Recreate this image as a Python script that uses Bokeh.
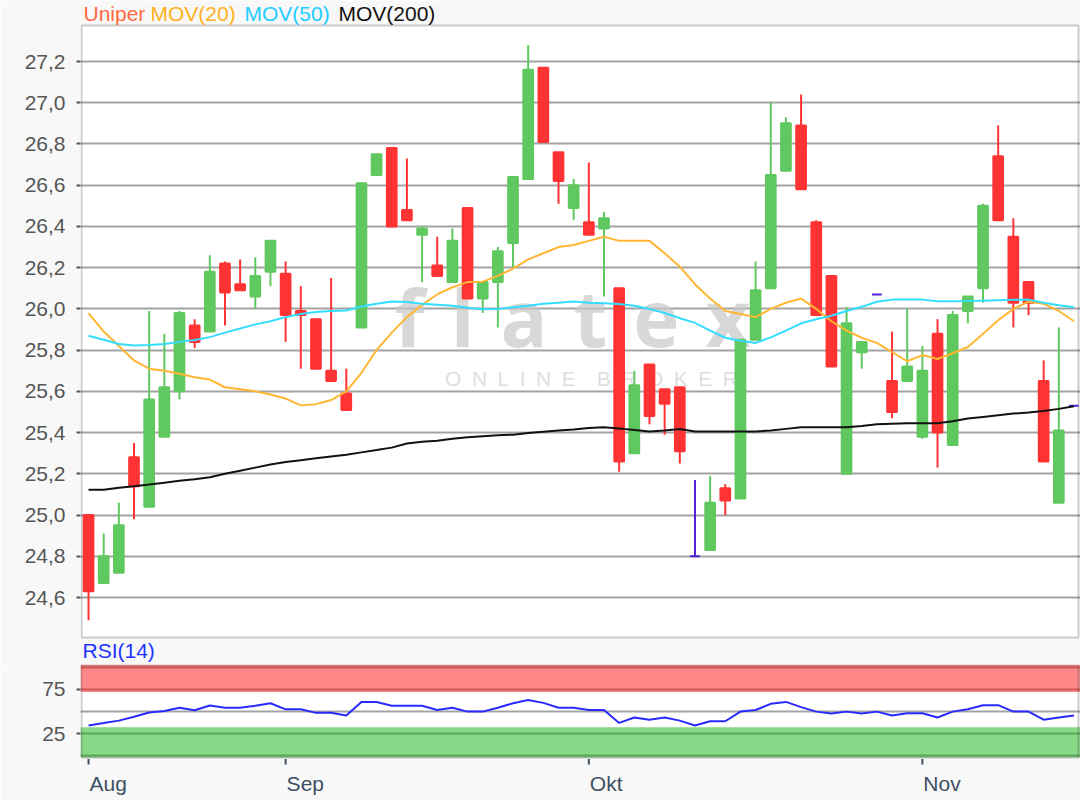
import numpy as np
from bokeh.plotting import figure
from bokeh.models import Range1d, FixedTicker, Label, ColumnDataSource, BoxAnnotation
from bokeh.layouts import column
from bokeh.embed import file_html
from bokeh.resources import INLINE

# ---------------- data ----------------
month_labels = ["Aug", "Sep", "Okt", "Nov"]
month_index = [0, 13, 33, 55]

open_ = [25.00, 24.67, 24.72, 25.28, 25.04, 25.38, 25.60, 25.92, 25.89, 26.22,
         26.12, 26.06, 26.18, 26.17, 25.99, 25.95, 25.70, 25.59, 25.91, 26.65,
         26.78, 26.48, 26.36, 26.21, 26.13, 26.49, 26.05, 26.13, 26.32, 26.63,
         27.17, 26.76, 26.49, 26.42, 26.39, 26.10, 25.30, 25.73, 25.61, 25.62,
         24.80, 24.83, 25.13, 25.08, 25.85, 26.10, 26.67, 26.89, 26.42, 26.16,
         25.20, 25.79, 26.07, 25.65, 25.65, 25.38, 25.88, 25.34, 25.99, 26.10,
         26.74, 26.35, 26.13, 25.65, 25.06, 25.53]
high = [25.00, 24.91, 25.06, 25.35, 25.99, 25.88, 25.99, 25.95, 26.26, 26.23,
        26.24, 26.25, 26.33, 26.23, 26.11, 25.95, 26.15, 25.71, 26.61, 26.75,
        26.78, 26.73, 26.40, 26.35, 26.39, 26.49, 26.13, 26.30, 26.64, 27.28,
        27.17, 26.76, 26.63, 26.71, 26.47, 26.10, 25.70, 25.73, 25.61, 25.62,
        25.17, 25.19, 25.15, 25.85, 26.23, 27.00, 26.93, 27.04, 26.43, 26.16,
        26.01, 25.84, 26.07, 25.89, 26.00, 25.82, 25.95, 25.99, 26.06, 26.51,
        26.89, 26.44, 26.13, 25.75, 25.91, 25.53]
low = [24.49, 24.67, 24.72, 24.98, 25.04, 25.38, 25.56, 25.81, 25.89, 25.92,
       26.09, 26.00, 26.11, 25.84, 25.71, 25.71, 25.65, 25.51, 25.91, 26.65,
       26.40, 26.43, 26.13, 26.16, 26.13, 26.05, 25.98, 25.91, 26.20, 26.63,
       26.81, 26.51, 26.43, 26.36, 26.06, 25.21, 25.30, 25.44, 25.39, 25.25,
       24.80, 24.83, 25.00, 25.08, 25.85, 26.10, 26.67, 26.58, 25.97, 25.72,
       25.20, 25.71, 26.07, 25.47, 25.65, 25.37, 25.23, 25.34, 25.93, 26.03,
       26.43, 25.91, 25.97, 25.26, 25.06, 25.53]
close = [24.63, 24.80, 24.95, 25.14, 25.56, 25.62, 25.98, 25.84, 26.18, 26.08,
         26.09, 26.16, 26.33, 25.97, 25.97, 25.71, 25.65, 25.51, 26.61, 26.75,
         26.40, 26.43, 26.39, 26.16, 26.33, 26.05, 26.13, 26.28, 26.64, 27.16,
         26.81, 26.62, 26.60, 26.36, 26.44, 25.26, 25.63, 25.48, 25.54, 25.31,
         24.80, 25.06, 25.07, 25.85, 26.09, 26.65, 26.90, 26.58, 25.97, 25.72,
         25.93, 25.84, 26.07, 25.50, 25.72, 25.70, 25.40, 25.97, 26.06, 26.50,
         26.43, 26.03, 26.03, 25.26, 25.41, 25.53]

mov20 = [25.98, 25.89, 25.82, 25.75, 25.71, 25.70, 25.685, 25.668, 25.657, 25.62,
         25.61, 25.60, 25.585, 25.565, 25.532, 25.538, 25.558, 25.60, 25.69, 25.80,
         25.885, 25.96, 26.02, 26.07, 26.105, 26.13, 26.132, 26.16, 26.195, 26.24,
         26.27, 26.30, 26.31, 26.33, 26.35, 26.33, 26.33, 26.33, 26.27, 26.205,
         26.12, 26.05, 25.99, 25.975, 25.96, 26.00, 26.03, 26.05, 26.00, 25.94,
         25.895, 25.86, 25.835, 25.79, 25.746, 25.776, 25.757, 25.785, 25.815, 25.88,
         25.945, 26.00, 26.035, 26.025, 25.99, 25.94]
mov50 = [25.87, 25.85, 25.83, 25.822, 25.825, 25.83, 25.84, 25.849, 25.863, 25.885,
         25.905, 25.925, 25.94, 25.96, 25.975, 25.985, 25.99, 25.992, 26.012, 26.025,
         26.036, 26.033, 26.025, 26.02, 26.015, 26.005, 25.998, 26.00, 26.008, 26.015,
         26.025, 26.03, 26.036, 26.03, 26.027, 26.024, 26.015, 26.00, 25.98, 25.955,
         25.932, 25.895, 25.86, 25.845, 25.835, 25.862, 25.895, 25.93, 25.95, 25.967,
         25.99, 26.01, 26.035, 26.045, 26.045, 26.045, 26.037, 26.037, 26.038, 26.04,
         26.042, 26.044, 26.045, 26.03, 26.018, 26.008]
mov200 = [25.123, 25.123, 25.132, 25.14, 25.148, 25.157, 25.166, 25.174, 25.183, 25.20,
          25.215, 25.23, 25.245, 25.257, 25.266, 25.275, 25.284, 25.292, 25.304, 25.315,
          25.327, 25.347, 25.355, 25.36, 25.37, 25.377, 25.382, 25.387, 25.39, 25.398,
          25.404, 25.41, 25.415, 25.422, 25.426, 25.42, 25.413, 25.405, 25.41, 25.417,
          25.405, 25.405, 25.405, 25.405, 25.405, 25.41, 25.418, 25.426, 25.426, 25.426,
          25.426, 25.432, 25.44, 25.443, 25.445, 25.445, 25.445, 25.455, 25.468, 25.476,
          25.484, 25.492, 25.497, 25.505, 25.515, 25.528]
rsi14 = [34.1, 36.8, 39.6, 44.0, 48.7, 50.5, 54.2, 51.3, 56.8, 54.2,
         54.2, 56.5, 59.3, 52.4, 52.4, 48.4, 48.4, 45.4, 60.8, 60.8,
         56.4, 56.4, 56.4, 51.6, 54.2, 49.8, 49.8, 54.2, 59.3, 63.0,
         59.7, 54.2, 54.2, 51.6, 51.6, 37.0, 43.2, 40.7, 43.2, 39.6,
         34.1, 38.9, 38.9, 49.8, 51.6, 58.6, 60.8, 54.9, 49.8, 47.6,
         49.8, 47.6, 49.8, 45.4, 48.0, 48.0, 43.2, 49.8, 52.4, 57.1,
         57.1, 49.8, 49.8, 40.7, 43.2, 45.4]

y_ticks = [24.6, 24.8, 25.0, 25.2, 25.4, 25.6, 25.8, 26.0, 26.2, 26.4, 26.6, 26.8, 27.0, 27.2]
y_tick_labels = ["24,6", "24,8", "25,0", "25,2", "25,4", "25,6", "25,8", "26,0",
                 "26,2", "26,4", "26,6", "26,8", "27,0", "27,2"]
rsi_ticks = [25, 75]
rsi_tick_labels = ["25", "75"]
rsi_grid = [0, 25, 50, 75, 100]
rsi_upper_band = [72, 103.2]
rsi_lower_band = [-2.2, 32]

# ---------------- layout / styling ----------------
FONT = "Liberation Sans"
GREEN = "#5fc85f"
RED = "#ff3333"
FLAT = "#5020d8"
GRID = "#a3a3a3"
FRAME = "#555555"
BG = "#f8f8f8"
MONTH_COL = "#3d4f63"
SP = "\u2004"
EN = "\u2002"

X0, X1 = -0.53, 65.43              # visible index range
P_LO, P_HI = 24.406, 27.375        # price plot area
P_VIEW = (24.275, 27.496)          # price frame incl. title strip / gap
R_LO, R_HI = -2.2, 103.2           # RSI plot area
R_VIEW = (-50.93, 103.2)           # RSI frame incl. month strip
XPX = (X1 - X0) / 998.0            # one pixel in index units
RPX = (R_HI - R_LO) / 93.0         # one pixel in RSI units

idx = np.arange(len(open_))
o = np.array(open_); c = np.array(close)
colors = [GREEN if cc > oo else (RED if cc < oo else FLAT) for oo, cc in zip(o, c)]
src = ColumnDataSource(dict(x=idx, o=o, c=c, h=high, l=low,
                            top=np.maximum(o, c), bottom=np.minimum(o, c), color=colors))

x_range = Range1d(X0, X1)


def style_yaxis(ax, ticks, labels):
    ax.ticker = FixedTicker(ticks=ticks)
    ax.major_label_overrides = {v: s for v, s in zip(ticks, labels)}
    ax.major_label_text_font = FONT
    ax.major_label_text_font_size = "21px"
    ax.major_label_text_color = "#555555"
    ax.major_tick_out = 4
    ax.major_tick_in = 0
    ax.minor_tick_out = 0
    ax.minor_tick_in = 0
    ax.major_tick_line_color = FRAME
    ax.major_tick_line_width = 2
    ax.axis_line_color = None
    ax.major_label_standoff = 11


# ---------------- main price chart ----------------
p1 = figure(width=1080, height=664, x_range=x_range, y_range=Range1d(*P_VIEW),
            output_backend="svg", toolbar_location=None, x_axis_location=None,
            min_border_left=80, min_border_right=0, min_border_top=0, min_border_bottom=0)
p1.border_fill_color = BG
p1.background_fill_color = "white"
p1.outline_line_color = None
p1.xgrid.visible = False
p1.ygrid.grid_line_color = GRID
p1.ygrid.grid_line_width = 2
style_yaxis(p1.yaxis[0], y_ticks, y_tick_labels)

# watermark (behind the candles)
p1.add_layout(Label(x=492, y=348, x_units="screen", y_units="screen",
                    text=SP.join("flatex"),
                    text_font="Open Sans", text_font_size="78px", text_font_style="bold",
                    text_color="#c8c8c8", text_alpha=0.7, text_align="center",
                    text_baseline="alphabetic", level="underlay"))
p1.add_layout(Label(x=511, y=286, x_units="screen", y_units="screen",
                    text=EN.join("ONLINE") + EN + EN + EN.join("BROKER"),
                    text_font=FONT, text_font_size="21px",
                    text_color="#d0d0d0", text_alpha=0.7, text_align="center",
                    text_baseline="alphabetic", level="underlay"))

# page-coloured strips above and below the price area
p1.quad(left=X0, right=X1, bottom=P_HI, top=P_VIEW[1], fill_color=BG, line_color=None)
p1.quad(left=X0, right=X1, bottom=P_VIEW[0], top=P_LO, fill_color=BG, line_color=None)

p1.segment(x0="x", y0="l", x1="x", y1="h", source=src, line_color="color", line_width=2)
p1.vbar(x="x", width=0.64, top="top", bottom="bottom", source=src,
        fill_color="color", line_color="color", line_width=2)

p1.line(idx, mov20, line_color="#ffb733", line_width=2)
p1.line(idx, mov50, line_color="#33ddff", line_width=2)
p1.line(idx, mov200, line_color="#111111", line_width=2)

# plot border
p1.add_layout(BoxAnnotation(left=X0 + XPX, right=X1 - 2 * XPX, bottom=P_LO, top=P_HI,
                            fill_alpha=0, line_color=FRAME, line_width=2))

for txt, xx, col in [("Uniper", 3, "#ff6a40"), ("MOV(20)", 70, "#ffb020"),
                     ("MOV(50)", 164, "#22ccff"), ("MOV(200)", 258, "#111111")]:
    p1.add_layout(Label(x=xx, y=651, x_units="screen", y_units="screen", text=txt,
                        text_font=FONT, text_font_size="21px", text_color=col,
                        text_baseline="alphabetic"))
p1.add_layout(Label(x=2, y=14, x_units="screen", y_units="screen", text="RSI(14)",
                    text_font=FONT, text_font_size="21px", text_color="#2233ff",
                    text_baseline="alphabetic"))

# ---------------- RSI panel ----------------
p2 = figure(width=1080, height=136, x_range=x_range, y_range=Range1d(*R_VIEW),
            output_backend="svg", toolbar_location=None, x_axis_location=None,
            min_border_left=80, min_border_right=0, min_border_top=0, min_border_bottom=0)
p2.border_fill_color = BG
p2.background_fill_color = "white"
p2.outline_line_color = None
p2.xgrid.visible = False
p2.ygrid.ticker = FixedTicker(ticks=rsi_grid)
p2.ygrid.grid_line_color = GRID
p2.ygrid.grid_line_width = 2
style_yaxis(p2.yaxis[0], rsi_ticks, rsi_tick_labels)

p2.quad(left=X0, right=X1, bottom=R_VIEW[0], top=R_LO, fill_color=BG, line_color=None)

p2.add_layout(BoxAnnotation(bottom=rsi_upper_band[0], top=rsi_upper_band[1],
                            fill_color="#ff0000", fill_alpha=0.47, line_color=None))
p2.add_layout(BoxAnnotation(bottom=rsi_lower_band[0], top=rsi_lower_band[1],
                            fill_color="#00ac00", fill_alpha=0.47, line_color=None))

p2.line(idx, rsi14, line_color="#2a2aff", line_width=2)

# month tick marks
p2.segment(x0=month_index, x1=month_index, y0=[R_LO - 1.5 * RPX] * len(month_index),
           y1=[R_LO - 7 * RPX] * len(month_index), line_color=MONTH_COL, line_width=2)

p2.add_layout(BoxAnnotation(left=X0 + XPX, right=X1 - 2 * XPX, bottom=R_LO,
                            top=R_HI - 1.2 * RPX,
                            fill_alpha=0, line_color=FRAME, line_width=2))

for mi, ml in zip(month_index, month_labels):
    p2.add_layout(Label(x=mi, y=17, x_units="data", y_units="screen", text=ml,
                        x_offset=1, text_font=FONT, text_font_size="21px",
                        text_color=MONTH_COL, text_align="left",
                        text_baseline="alphabetic"))

layout = column(p1, p2, spacing=0)
open("out.html", "w").write(file_html(layout, INLINE))
